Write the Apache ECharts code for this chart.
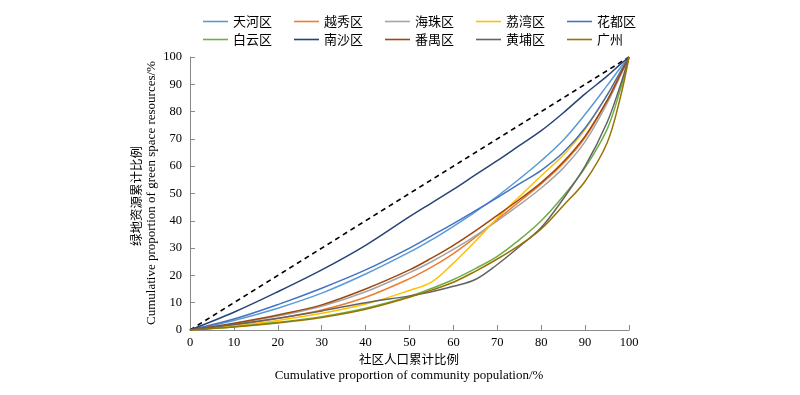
<!DOCTYPE html>
<html>
<head>
<meta charset="utf-8">
<script src="https://cdn.jsdelivr.net/npm/echarts@6/dist/echarts.min.js"></script>
<style>html,body{margin:0;padding:0;background:#fff}#c{width:800px;height:395px}</style>
</head>
<body>
<div id="c"></div>
<script>
// cumulative population share (%)
var xs = [0, 10, 20, 30, 40, 50, 55, 60, 65, 70, 75, 80, 85, 90, 95, 98, 100];
// cumulative green space share (%) per district
var tianhe  = [0, 3.5, 8, 13.5, 20.5, 28.5, 33, 38, 43.3, 49, 55.3, 62, 69.5, 79, 89.5, 96, 100];
var yuexiu  = [0, 1.8, 4.2, 7.3, 12, 18.8, 23, 28, 34, 40.5, 47, 53.5, 61, 70.5, 84, 93.5, 100];
var haizhu  = [0, 2.3, 5.1, 8.7, 14, 21, 25, 29.5, 34.5, 40, 45.8, 52, 59.3, 69, 83, 93, 100];
var liwan   = [0, 1.5, 3.5, 6.1, 9.5, 14.5, 17.5, 24.5, 32.5, 41, 48.8, 56.5, 64, 73.5, 86, 94.5, 100];
var huadu   = [0, 4, 9.3, 15.3, 22, 30, 34.5, 39, 43.7, 48.5, 53.5, 58.5, 65, 74, 86, 94.5, 100];
var baiyun  = [0, 1.2, 2.8, 4.9, 8, 12.3, 15.2, 18.5, 22.5, 27, 33, 40, 49, 59.5, 73.5, 88, 100];
var nansha  = [0, 6.5, 14, 22, 31, 41.5, 46.5, 51.5, 56.8, 62, 67.5, 73, 79.5, 86.5, 93, 97.3, 100];
var panyu   = [0, 2.5, 5.5, 9.2, 15, 22, 26.3, 31, 36.3, 42, 47.8, 54, 61.5, 71, 84, 93.5, 100];
var huangpu = [0, 2, 4.3, 7, 10, 12.5, 14, 16, 18.5, 24, 30.5, 37.5, 48, 60, 76, 89.5, 100];
var guangzhou = [0, 1.1, 2.6, 4.6, 7.6, 12, 14.6, 17.5, 21.5, 26, 31, 37, 45.5, 54.5, 68.5, 85, 100];
var equality = [0, 100];
var xTicks = [0, 10, 20, 30, 40, 50, 60, 70, 80, 90, 100];

var names1 = ['天河区', '越秀区', '海珠区', '荔湾区', '花都区'];
var names2 = ['白云区', '南沙区', '番禺区', '黄埔区', '广州'];
var colors = {
  '天河区': '#5B9BD5', '越秀区': '#ED7D31', '海珠区': '#A5A5A5', '荔湾区': '#FFC000', '花都区': '#4472C4',
  '白云区': '#70AD47', '南沙区': '#264478', '番禺区': '#9E480E', '黄埔区': '#636363', '广州': '#997300'
};
var values = {
  '天河区': tianhe, '越秀区': yuexiu, '海珠区': haizhu, '荔湾区': liwan, '花都区': huadu,
  '白云区': baiyun, '南沙区': nansha, '番禺区': panyu, '黄埔区': huangpu, '广州': guangzhou
};
function pairs(arr) { return xs.map(function (x, i) { return [x, arr[i]]; }); }

var serif = 'Liberation Serif';
var cjk = 'Noto Sans CJK SC';
var order = names1.concat(names2);
var series = [{
  type: 'line', name: 'eq', data: [[xTicks[0], equality[0]], [xTicks[xTicks.length - 1], equality[1]]],
  symbol: 'none', silent: true,
  lineStyle: { color: '#000', width: 1.6, type: [5, 4] }, z: 1
}];
order.forEach(function (n) {
  series.push({
    type: 'line', name: n, data: pairs(values[n]), symbol: 'none',
    smooth: 0.35,
    lineStyle: { color: colors[n], width: 1.5 }, itemStyle: { color: colors[n] }
  });
});

function legendData(list) {
  return list.map(function (n) { return { name: n, icon: 'rect', itemStyle: { color: colors[n], borderWidth: 0 } }; });
}
var legendCommon = {
  left: 198, itemWidth: 25, itemHeight: 1.6, itemGap: 22,
  textStyle: { fontFamily: cjk, fontSize: 13, color: '#000' }
};
var chart = echarts.init(document.getElementById('c'));
chart.setOption({
  animation: false,
  grid: { left: 190, right: 171, top: 57, bottom: 65 },
  legend: [
    Object.assign({ top: 10, data: legendData(names1) }, legendCommon),
    Object.assign({ top: 28, data: legendData(names2) }, legendCommon)
  ],
  xAxis: {
    type: 'value', min: 0, max: 100, interval: 10,
    axisLine: { lineStyle: { color: '#898989', width: 1 } },
    axisTick: { inside: true, length: 5, lineStyle: { color: '#898989' } },
    splitLine: { show: false },
    axisLabel: { fontFamily: serif, fontSize: 12.5, color: '#000', margin: 6 }
  },
  yAxis: {
    type: 'value', min: 0, max: 100, interval: 10,
    axisLine: { show: true, lineStyle: { color: '#898989', width: 1 } },
    axisTick: { show: true, inside: true, length: 5, lineStyle: { color: '#898989' } },
    splitLine: { show: false },
    axisLabel: { fontFamily: serif, fontSize: 12.5, color: '#000', margin: 8 }
  },
  graphic: [
    { type: 'text', x: 409, y: 359, style: { text: '社区人口累计比例', font: '12.5px "' + cjk + '"', fill: '#000', align: 'center', verticalAlign: 'middle' } },
    { type: 'text', x: 409, y: 376, style: { text: 'Cumulative proportion of community population/%', font: '13px "' + serif + '"', fill: '#000', align: 'center', verticalAlign: 'middle' } },
    { type: 'text', x: 136, y: 196, rotation: Math.PI / 2, style: { text: '绿地资源累计比例', font: '12.5px "' + cjk + '"', fill: '#000', align: 'center', verticalAlign: 'middle' } },
    { type: 'text', x: 152, y: 193, rotation: Math.PI / 2, style: { text: 'Cumulative proportion of green space resources/%', font: '13px "' + serif + '"', fill: '#000', align: 'center', verticalAlign: 'middle' } }
  ],
  series: series
});
</script>
</body>
</html>
